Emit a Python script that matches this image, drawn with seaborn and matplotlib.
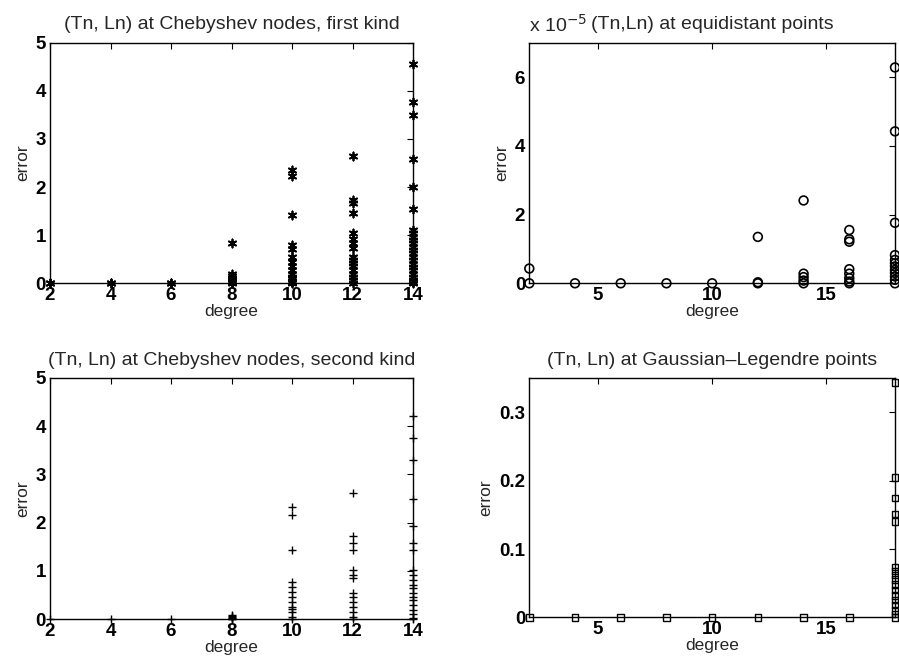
import matplotlib
matplotlib.use("Agg")
import matplotlib.pyplot as plt
import seaborn as sns
import pandas as pd

# ---------------- data ----------------
cheb1_degrees = [2, 4, 6, 8, 10, 12, 14]
cheb1_errors = [
    [0.0, 0.01],
    [0.0, 0.01],
    [0.0, 0.01],
    [0.84, 0.20, 0.16, 0.12, 0.08, 0.05, 0.02, 0.0],
    [2.36, 2.22, 1.42, 0.80, 0.72, 0.55, 0.45, 0.35, 0.28, 0.20, 0.14, 0.08, 0.03, 0.0],
    [2.65, 1.73, 1.67, 1.47, 1.04, 0.92, 0.83, 0.73, 0.55, 0.48, 0.42, 0.35, 0.28,
     0.20, 0.14, 0.07, 0.0],
    [4.56, 3.76, 3.50, 2.58, 2.00, 1.54, 1.10, 1.04, 0.97, 0.90, 0.83, 0.76, 0.69,
     0.62, 0.55, 0.48, 0.41, 0.34, 0.27, 0.20, 0.13, 0.07, 0.02, 0.0],
]

equi_degrees = [2, 4, 6, 8, 10, 12, 14, 16, 18]
equi_errors_e5 = [  # in units of 1e-5
    [0.43, 0.0],
    [0.0],
    [0.0],
    [0.0],
    [0.0],
    [1.35, 0.03, 0.0],
    [2.41, 0.28, 0.18, 0.08, 0.0],
    [1.55, 1.28, 1.21, 0.41, 0.28, 0.15, 0.05, 0.0],
    [6.28, 4.42, 1.76, 0.82, 0.68, 0.58, 0.49, 0.39, 0.30, 0.20, 0.10, 0.0],
]

cheb2_degrees = [2, 4, 6, 8, 10, 12, 14]
cheb2_errors = [
    [0.0],
    [0.0],
    [0.0],
    [0.09, 0.07, 0.05, 0.03, 0.01, 0.0],
    [2.33, 2.16, 1.43, 0.78, 0.67, 0.57, 0.47, 0.36, 0.26, 0.22, 0.16, 0.05, 0.0],
    [2.62, 1.72, 1.57, 1.43, 1.02, 0.92, 0.85, 0.54, 0.47, 0.36, 0.26, 0.16, 0.05, 0.0],
    [4.21, 3.75, 3.30, 2.48, 1.93, 1.57, 1.43, 1.02, 0.92, 0.82, 0.72, 0.65, 0.55,
     0.47, 0.40, 0.30, 0.20, 0.10, 0.03, 0.0],
]

gauss_degrees = [2, 4, 6, 8, 10, 12, 14, 16, 18]
gauss_errors = [
    [0.0], [0.0], [0.0], [0.0], [0.0], [0.0], [0.0], [0.0],
    [0.344, 0.205, 0.175, 0.151, 0.140, 0.074, 0.068, 0.062, 0.055, 0.048, 0.040,
     0.032, 0.025, 0.018, 0.010, 0.005, 0.0],
]

titles = [
    "(Tn, Ln) at Chebyshev nodes, first kind",
    "(Tn,Ln) at equidistant points",
    "(Tn, Ln) at Chebyshev nodes, second kind",
    "(Tn, Ln) at Gaussian\u2013Legendre points",
]


def to_frame(degrees, errors):
    rows = [(d, e) for d, errs in zip(degrees, errors) for e in errs]
    return pd.DataFrame(rows, columns=["degree", "error"])


# ---------------- style ----------------
sns.set_theme(style="white")
plt.rcParams["font.family"] = ["Liberation Sans", "DejaVu Sans"]
plt.rcParams["axes.edgecolor"] = "black"
plt.rcParams["axes.linewidth"] = 1.0

fig = plt.figure(figsize=(8.99, 6.71), dpi=100)
W, H = 899.0, 671.0


def make_ax(l, r, t, b):
    return fig.add_axes([l / W, 1 - b / H, (r - l) / W, (b - t) / H])


ax_tl = make_ax(50, 413, 42.7, 283.3)
ax_tr = make_ax(529.3, 895, 42.7, 283.3)
ax_bl = make_ax(50, 413, 377.7, 619.3)
ax_br = make_ax(529.3, 895, 378.3, 617.3)

tick_fs = 13.5
lab_fs = 12.5
title_fs = 14

# first kind: asterisks
sns.scatterplot(data=to_frame(cheb1_degrees, cheb1_errors), x="degree", y="error",
                ax=ax_tl, marker=(6, 2, 0), s=34, color="black", linewidth=1.3,
                clip_on=False, zorder=3)
# equidistant: open circles
sns.scatterplot(data=to_frame(equi_degrees, equi_errors_e5), x="degree", y="error",
                ax=ax_tr, marker="o", s=40, facecolor="none", edgecolor="black",
                linewidth=1.2, clip_on=False, zorder=3)
# second kind: plus
sns.scatterplot(data=to_frame(cheb2_degrees, cheb2_errors), x="degree", y="error",
                ax=ax_bl, marker="+", s=40, color="black", linewidth=1.0,
                clip_on=False, zorder=3)
# Gauss-Legendre: open squares
sns.scatterplot(data=to_frame(gauss_degrees, gauss_errors), x="degree", y="error",
                ax=ax_br, marker="s", s=22, facecolor="none", edgecolor="black",
                linewidth=1.0, clip_on=False, zorder=3)

pads = [10, 10, 9.5, 9.5]
for ax, title, pad in zip([ax_tl, ax_tr, ax_bl, ax_br], titles, pads):
    ax.set_title(title, fontsize=title_fs, pad=pad)
    ax.set_xlabel("degree", fontsize=lab_fs, labelpad=0)
    ax.set_ylabel("error", fontsize=lab_fs, labelpad=4)
    ax.tick_params(direction="in", top=True, right=True, length=4, width=0.8,
                   labelsize=tick_fs, colors="black")
    ax.tick_params(axis="x", pad=3)
    ax.tick_params(axis="y", pad=3)
    for sp in ax.spines.values():
        sp.set_visible(True)
        sp.set_color("black")

for ax in (ax_tl, ax_bl):
    ax.set_xlim(2, 14)
    ax.set_ylim(0, 5)
    ax.set_xticks([2, 4, 6, 8, 10, 12, 14])
    ax.set_yticks([0, 1, 2, 3, 4, 5])

ax_tr.set_xlim(2, 18)
ax_tr.set_ylim(0, 7)
ax_tr.set_xticks([5, 10, 15])
ax_tr.set_yticks([0, 2, 4, 6])
ax_tr.text(0.0, 1.0 + 7.0 / 240.6, r"x 10$^{-5}$", transform=ax_tr.transAxes,
           fontsize=title_fs, ha="left", va="bottom")

ax_br.set_xlim(2, 18)
ax_br.set_ylim(0, 0.35)
ax_br.set_xticks([5, 10, 15])
ax_br.set_yticks([0, 0.1, 0.2, 0.3])
ax_br.set_yticklabels(["0", "0.1", "0.2", "0.3"])

for ax in (ax_tl, ax_tr, ax_bl, ax_br):
    for lbl in ax.get_xticklabels() + ax.get_yticklabels():
        lbl.set_fontweight("bold")

fig.savefig("out.png", dpi=100)
